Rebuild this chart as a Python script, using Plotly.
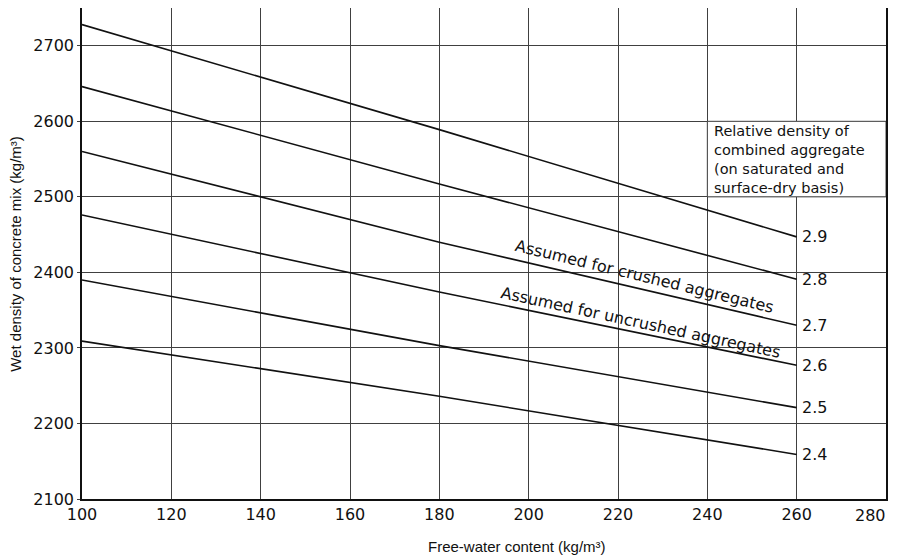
import plotly.graph_objects as go

# ---- data ----
free_water = [100, 180, 260]                      # kg/m3
relative_density = ["2.9", "2.8", "2.7", "2.6", "2.5", "2.4"]
wet_density = {
    "2.9": [2728, 2589, 2447],
    "2.8": [2646, 2517, 2391],
    "2.7": [2560, 2440, 2330],
    "2.6": [2476, 2374, 2277],
    "2.5": [2390, 2303, 2221],
    "2.4": [2309, 2236, 2159],
}
x_ticks = [100, 120, 140, 160, 180, 200, 220, 240, 260, 280]
y_ticks = [2100, 2200, 2300, 2400, 2500, 2600, 2700]
legend_text = ("Relative density of<br>combined aggregate<br>"
               "(on saturated and<br>surface-dry basis)")
note_crushed = "Assumed for crushed aggregates"
note_uncrushed = "Assumed for uncrushed aggregates"

FONT = "DejaVu Sans"
GRID = "#404040"
INK = "#111111"

fig = go.Figure()
for rd in relative_density:
    fig.add_trace(go.Scatter(
        x=free_water, y=wet_density[rd], mode="lines",
        line=dict(color=INK, width=1.6), showlegend=False,
        hoverinfo="skip"))

annotations = []
# line-end labels
for rd in relative_density:
    annotations.append(dict(
        x=free_water[-1], y=wet_density[rd][-1], xref="x", yref="y",
        text=rd, showarrow=False, xanchor="left", yanchor="middle",
        xshift=3, font=dict(family=FONT, size=16, color=INK)))

# legend box text
annotations.append(dict(
    x=241.0, y=2550, xref="x", yref="y", text=legend_text, showarrow=False,
    xanchor="left", yanchor="middle", align="left",
    font=dict(family=FONT, size=14.5, color=INK)))

# sloped notes
annotations.append(dict(
    x=226.0, y=2395, xref="x", yref="y", text=note_crushed, showarrow=False,
    textangle=13.6, font=dict(family=FONT, size=16, color=INK)))
annotations.append(dict(
    x=225.0, y=2334, xref="x", yref="y", text=note_uncrushed, showarrow=False,
    textangle=12.2, font=dict(family=FONT, size=16, color=INK)))

# last x tick label sits at the figure edge: right-aligned under the border
annotations.append(dict(
    x=x_ticks[-1], y=0, xref="x", yref="paper", text=str(x_ticks[-1]),
    showarrow=False, xanchor="right", yanchor="top", yshift=-5, xshift=2,
    font=dict(family=FONT, size=16, color=INK)))

# axis titles
annotations.append(dict(
    x=0.541, y=-0.096, xref="paper", yref="paper",
    text="Free-water content (kg/m³)", showarrow=False,
    xanchor="center", yanchor="middle",
    font=dict(family="Liberation Sans", size=15, color=INK)))
annotations.append(dict(
    x=-0.083, y=0.50, xref="paper", yref="paper",
    text="Wet density of concrete mix (kg/m³)", showarrow=False,
    textangle=-90, xanchor="center", yanchor="middle",
    font=dict(family="Liberation Sans", size=15, color=INK)))

# page body has an 8px margin: size the figure so it fits the window
fig.update_layout(
    width=890, height=551,
    margin=dict(l=74, r=12, t=0, b=60, pad=0),
    paper_bgcolor="white", plot_bgcolor="white",
    annotations=annotations,
    shapes=[dict(type="rect", xref="x", yref="y", x0=240, x1=280,
                 y0=2500, y1=2600, fillcolor="white",
                 line=dict(color=GRID, width=1), layer="between")],
    xaxis=dict(range=[100, 280], tickvals=x_ticks[:-1], showgrid=True,
               gridcolor=GRID, gridwidth=1, showline=True, mirror=True,
               linecolor=INK, linewidth=1.5, ticks="", zeroline=False,
               automargin=False,
               tickfont=dict(family=FONT, size=16, color=INK)),
    yaxis=dict(range=[2100, 2750], tickvals=y_ticks, showgrid=True,
               gridcolor=GRID, gridwidth=1, showline=True, mirror=True,
               linecolor=INK, linewidth=1.5, ticks="outside",
               ticklen=3, tickcolor=GRID, zeroline=False, automargin=False,
               tickfont=dict(family=FONT, size=16, color=INK)),
)

fig.write_html("out.html")
